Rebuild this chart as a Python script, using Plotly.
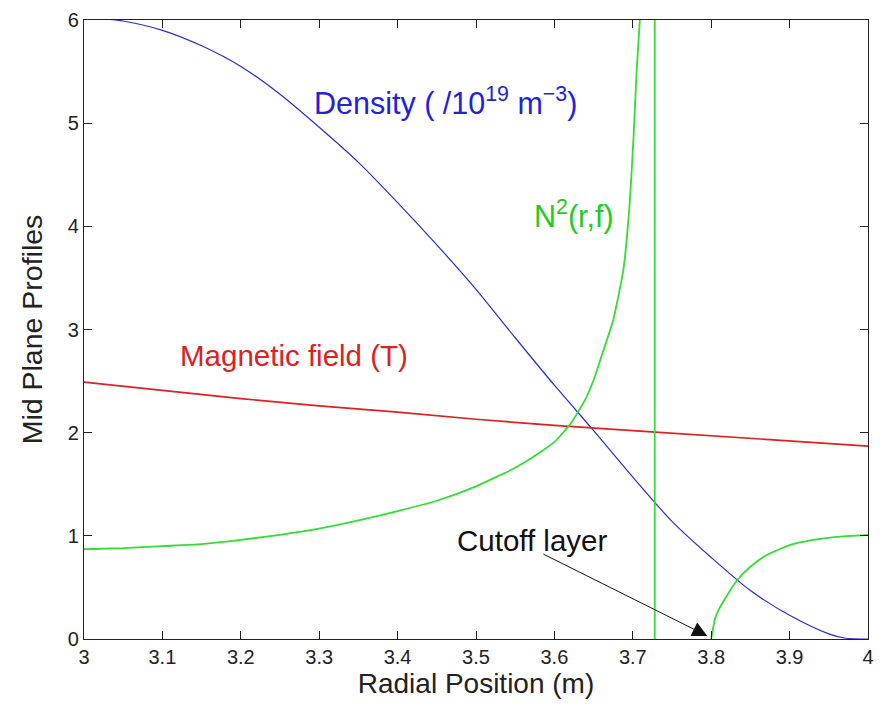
import plotly.graph_objects as go

# ---- data ----
r_density = [3.00, 3.04, 3.05, 3.10, 3.15, 3.20, 3.25, 3.30, 3.35, 3.40, 3.45, 3.50,
             3.55, 3.60, 3.65, 3.70, 3.75, 3.80, 3.85, 3.90, 3.95, 3.97, 4.00]
density = [6.03, 6.00, 5.99, 5.90, 5.75, 5.55, 5.28, 4.96, 4.62, 4.23, 3.82, 3.39,
           2.92, 2.46, 2.02, 1.57, 1.14, 0.79, 0.47, 0.23, 0.05, 0.01, 0.0]

r_field = [3.0, 3.1, 3.2, 3.3, 3.4, 3.5, 3.6, 3.7, 3.8, 3.9, 4.0]
field = [2.49, 2.41, 2.33, 2.26, 2.20, 2.13, 2.07, 2.02, 1.97, 1.92, 1.87]

r_n2_left = [3.00, 3.05, 3.10, 3.15, 3.20, 3.25, 3.30, 3.35, 3.40, 3.45, 3.50, 3.55,
             3.58, 3.60, 3.62, 3.64, 3.65, 3.66, 3.675, 3.688, 3.696, 3.701, 3.705,
             3.709, 3.712]
n2_left = [0.87, 0.88, 0.90, 0.92, 0.96, 1.01, 1.07, 1.15, 1.24, 1.34, 1.48, 1.66,
           1.80, 1.91, 2.08, 2.33, 2.51, 2.74, 3.09, 3.58, 4.22, 4.87, 5.52,
           6.00, 6.50]

r_n2_right = [3.800, 3.805, 3.81, 3.82, 3.833, 3.85, 3.87, 3.90, 3.93, 3.96, 4.00]
n2_right = [0.0, 0.20, 0.29, 0.42, 0.57, 0.70, 0.81, 0.91, 0.96, 0.99, 1.01]

r_resonance = 3.728
r_cutoff = 3.795

x_ticks = [3.0, 3.1, 3.2, 3.3, 3.4, 3.5, 3.6, 3.7, 3.8, 3.9, 4.0]
x_tick_labels = ["3", "3.1", "3.2", "3.3", "3.4", "3.5", "3.6", "3.7", "3.8", "3.9", "4"]
y_ticks = [0, 1, 2, 3, 4, 5, 6]
x_range = [3.0, 4.0]
y_range = [0, 6]

BLUE = "#2b2bd0"
RED = "#dd2020"
GREEN = "#33dd33"
FONT = "Liberation Sans, Arial, sans-serif"

fig = go.Figure()
fig.add_trace(go.Scatter(x=r_density, y=density, mode="lines", line_shape="spline",
                         line=dict(color=BLUE, width=1.2, smoothing=0.8), showlegend=False))
fig.add_trace(go.Scatter(x=r_field, y=field, mode="lines",
                         line=dict(color=RED, width=1.7), showlegend=False))
fig.add_trace(go.Scatter(x=r_n2_left, y=n2_left, mode="lines", line_shape="spline",
                         line=dict(color=GREEN, width=1.8, smoothing=0.5), showlegend=False))
fig.add_trace(go.Scatter(x=[r_resonance, r_resonance], y=y_range, mode="lines",
                         line=dict(color=GREEN, width=1.8), showlegend=False))
fig.add_trace(go.Scatter(x=r_n2_right, y=n2_right, mode="lines", line_shape="spline",
                         line=dict(color=GREEN, width=1.8, smoothing=0.5), showlegend=False))

ann_font = 29.5
fig.add_annotation(x=3.291, y=5.21, xref="x", yref="y", xanchor="left", yanchor="middle",
                   text="Density ( /10<sup>19</sup> m<sup>\u22123</sup>)", showarrow=False,
                   font=dict(color="#2222dd", size=30.5, family=FONT))
fig.add_annotation(x=3.416, y=2.75, xref="x", yref="y", xanchor="right", yanchor="middle",
                   text="Magnetic field (T)", showarrow=False,
                   font=dict(color=RED, size=ann_font, family=FONT))
fig.add_annotation(x=3.571, y=4.11, xref="x", yref="y", xanchor="left", yanchor="middle",
                   text="N<sup>2</sup>(r,f)", showarrow=False,
                   font=dict(color="#22cc22", size=30.5, family=FONT))
fig.add_annotation(x=3.473, y=0.95, xref="x", yref="y", xanchor="left", yanchor="middle",
                   text="Cutoff layer", showarrow=False,
                   font=dict(color="#111111", size=ann_font, family=FONT))
fig.add_annotation(x=r_cutoff, y=0.03, ax=3.584, ay=0.83, xref="x", yref="y",
                   axref="x", ayref="y", text="", showarrow=True,
                   arrowhead=2, arrowsize=3, arrowwidth=1, arrowcolor="#111111")

axis_common = dict(showline=True, linecolor="#222222", linewidth=1.2, mirror="allticks",
                   ticks="inside", ticklen=8, tickcolor="#222222", showgrid=False,
                   zeroline=False, automargin=False,
                   tickfont=dict(size=20, color="#222222", family=FONT))
fig.update_xaxes(range=x_range, tickvals=x_ticks, ticktext=x_tick_labels,
                 title=dict(text="Radial Position (m)", font=dict(size=28, color="#222222", family=FONT),
                            standoff=4),
                 **axis_common)
fig.update_yaxes(range=y_range, tickvals=y_ticks,
                 title=dict(text="Mid Plane Profiles", font=dict(size=28.5, color="#222222", family=FONT),
                            standoff=16),
                 **axis_common)

fig.update_layout(width=881, height=710, margin=dict(l=84, r=13, t=20, b=71),
                  plot_bgcolor="white", paper_bgcolor="white", font=dict(family=FONT))

fig.write_html("out.html")
